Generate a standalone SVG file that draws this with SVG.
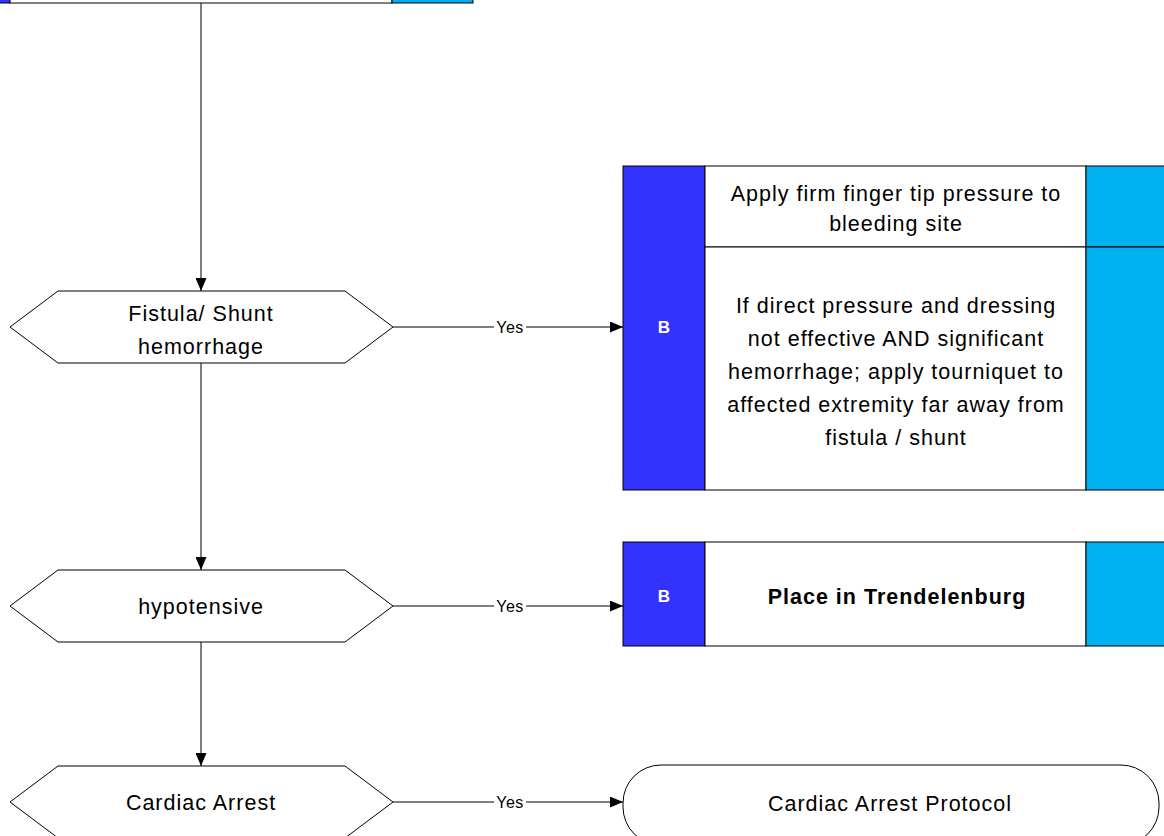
<svg xmlns="http://www.w3.org/2000/svg" width="1164" height="836" viewBox="0 0 1164 836">
<style>
.hex{fill:#fff;stroke:#000;stroke-width:1}
.t{font-family:"Liberation Sans",Arial,sans-serif;font-size:21.5px;letter-spacing:1px;fill:#000;text-anchor:middle}
.b{font-family:"Liberation Sans",Arial,sans-serif;font-size:17px;font-weight:bold;fill:#fff;text-anchor:middle}
.bl{fill:#3333ff;stroke:#000;stroke-width:1}
.lb{fill:#00b0f0;stroke:#000;stroke-width:1}
.wh{fill:#fff;stroke:#000;stroke-width:1}
.c{stroke:#000;stroke-width:1;fill:none}
.y{font-family:"Liberation Sans",Arial,sans-serif;font-size:16px;letter-spacing:0.5px;fill:#000;text-anchor:middle}
</style>
<defs>
<marker id="arr" markerWidth="13" markerHeight="11" refX="13" refY="5.5" orient="auto" markerUnits="userSpaceOnUse">
<path d="M0,0 L13,5.5 L0,11 Z" fill="#000"/>
</marker>
</defs>
<rect width="1164" height="836" fill="#fff"/>
<g id="top">
<rect class="bl" x="-1" y="-20" width="11" height="23"/>
<rect class="wh" x="10" y="-20" width="382" height="23"/>
<rect class="lb" x="392" y="-20" width="81" height="23"/>
</g>
<g id="connectors">
<line class="c" x1="201" y1="3" x2="201" y2="291" marker-end="url(#arr)"/>
<line class="c" x1="201" y1="363" x2="201" y2="570" marker-end="url(#arr)"/>
<line class="c" x1="201" y1="642" x2="201" y2="766" marker-end="url(#arr)"/>
<line class="c" x1="393" y1="327" x2="623" y2="327" marker-end="url(#arr)"/>
<line class="c" x1="393" y1="606" x2="623" y2="606" marker-end="url(#arr)"/>
<line class="c" x1="393" y1="802" x2="623" y2="802" marker-end="url(#arr)"/>
<rect x="494" y="318" width="32" height="18" fill="#fff"/>
<text class="y" x="510" y="333">Yes</text>
<rect x="494" y="597" width="32" height="18" fill="#fff"/>
<text class="y" x="510" y="612">Yes</text>
<rect x="494" y="793" width="32" height="18" fill="#fff"/>
<text class="y" x="510" y="808">Yes</text>
</g>
<g id="fistula">
<polygon class="hex" points="10,327 58,291 345,291 393,327 345,363 58,363"/>
<text class="t" x="201" y="321">Fistula/ Shunt</text>
<text class="t" x="201" y="354">hemorrhage</text>
</g>
<g id="hypotensive">
<polygon class="hex" points="10,606 58,570 345,570 393,606 345,642 58,642"/>
<text class="t" x="201" y="614">hypotensive</text>
</g>
<g id="cardiac">
<polygon class="hex" points="10,802 58,766 345,766 393,802 345,838 58,838"/>
<text class="t" x="201" y="810">Cardiac Arrest</text>
</g>
<g id="box1">
<rect class="bl" x="623" y="166" width="82" height="324"/>
<text class="b" x="664" y="333">B</text>
<rect class="wh" x="705" y="166" width="381" height="81"/>
<rect class="wh" x="705" y="247" width="381" height="243"/>
<rect class="lb" x="1086" y="166" width="80" height="81"/>
<rect class="lb" x="1086" y="247" width="80" height="243" stroke-width="2"/>
<text class="t" x="896" y="201">Apply firm finger tip pressure to</text>
<text class="t" x="896" y="231">bleeding site</text>
<text class="t" x="896" y="313">If direct pressure and dressing</text>
<text class="t" x="896" y="346">not effective AND significant</text>
<text class="t" x="896" y="379">hemorrhage; apply tourniquet to</text>
<text class="t" x="896" y="412">affected extremity far away from</text>
<text class="t" x="896" y="445">fistula / shunt</text>
</g>
<g id="box2">
<rect class="bl" x="623" y="542" width="82" height="104"/>
<text class="b" x="664" y="602">B</text>
<rect class="wh" x="705" y="542" width="381" height="104"/>
<rect class="lb" x="1086" y="542" width="80" height="104"/>
<text class="t" x="897" y="604" font-weight="bold" letter-spacing="0.3">Place in Trendelenburg</text>
</g>
<g id="protocol">
<rect class="wh" x="623" y="765" width="536" height="80" rx="38" ry="38" stroke-width="1.5"/>
<text class="t" x="890" y="811">Cardiac Arrest Protocol</text>
</g>
</svg>
